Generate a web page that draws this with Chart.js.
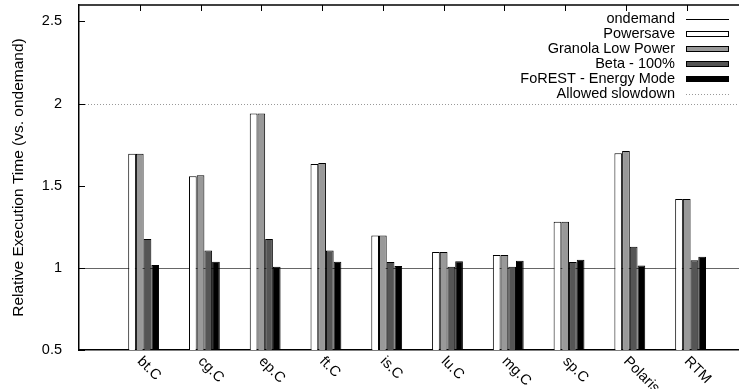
<!DOCTYPE html>
<html>
<head>
<meta charset="utf-8">
<script src="https://cdn.jsdelivr.net/npm/chart.js@4"></script>
<style>
  body { margin: 0; background: #fff; }
  #contenedor { width: 739px; height: 389px; }
</style>
</head>
<body>
<div id="contenedor"><canvas id="grafico"></canvas></div>
<script>
// datos
const categorias = ["bt.C", "cg.C", "ep.C", "ft.C", "is.C", "lu.C", "mg.C", "sp.C", "Polaris", "RTM"];
const ondemand = [1, 1, 1, 1, 1, 1, 1, 1, 1, 1];
const powersave = [1.695, 1.557, 1.94, 1.632, 1.197, 1.096, 1.079, 1.28, 1.697, 1.419];
const granola = [1.695, 1.563, 1.94, 1.638, 1.197, 1.096, 1.079, 1.28, 1.711, 1.419];
const beta = [1.175, 1.106, 1.175, 1.106, 1.035, 1.006, 1.006, 1.035, 1.128, 1.047];
const forest = [1.018, 1.037, 1.006, 1.037, 1.012, 1.04, 1.043, 1.049, 1.014, 1.067];
const slowdownPermitido = 2;
const ticksY = [0.5, 1, 1.5, 2, 2.5];

const fuente = "'Liberation Sans', Arial, Helvetica, sans-serif";
const tam = 14.5;

const puntos = vals => vals.map((v, i) => ({ x: i, y: v }));

// leyenda, lineas de referencia, ticks hacia adentro y etiquetas giradas
const extras = {
  id: 'extras',
  beforeDatasetsDraw(chart) {
    const { ctx, chartArea: a, scales: { y } } = chart;
    ctx.save();
    const y1 = Math.round(y.getPixelForValue(ondemand[0])) + 0.5;
    ctx.strokeStyle = '#666';
    ctx.lineWidth = 1;
    ctx.beginPath();
    ctx.moveTo(a.left, y1);
    ctx.lineTo(a.right, y1);
    ctx.stroke();

    const y2 = Math.round(y.getPixelForValue(slowdownPermitido)) + 0.5;
    ctx.strokeStyle = '#999';
    ctx.setLineDash([1, 2]);
    ctx.beginPath();
    ctx.moveTo(a.left, y2);
    ctx.lineTo(a.right, y2);
    ctx.stroke();
    ctx.restore();
  },
  afterDraw(chart) {
    const { ctx, chartArea: a, scales: { x, y } } = chart;
    ctx.save();
    ctx.strokeStyle = '#000';

    // borde de arriba
    ctx.lineWidth = 1.5;
    ctx.beginPath();
    ctx.moveTo(a.left, a.top);
    ctx.lineTo(a.right, a.top);
    ctx.stroke();

    // ticks
    ctx.lineWidth = 1;
    ticksY.forEach(v => {
      const py = Math.round(y.getPixelForValue(v)) + 0.5;
      ctx.beginPath();
      ctx.moveTo(a.left, py);
      ctx.lineTo(a.left + 6, py);
      ctx.stroke();
    });
    categorias.forEach((c, i) => {
      const px = Math.round(x.getPixelForValue(i)) + 0.5;
      ctx.beginPath();
      ctx.moveTo(px, a.top);
      ctx.lineTo(px, a.top + 6);
      ctx.stroke();
    });

    // etiquetas del eje x
    ctx.fillStyle = '#000';
    ctx.font = tam + 'px ' + fuente;
    ctx.textAlign = 'left';
    ctx.textBaseline = 'alphabetic';
    categorias.forEach((c, i) => {
      const px = x.getPixelForValue(i);
      ctx.save();
      ctx.translate(px - 3, a.bottom + 12);
      ctx.rotate(Math.PI / 4);
      ctx.fillText(c, 0, 0);
      ctx.restore();
    });

    // leyenda
    const textoX = 675, muestraX = 686, muestraW = 43;
    ctx.textAlign = 'right';
    ctx.textBaseline = 'middle';
    chart.data.datasets.forEach((ds, k) => {
      const cy = 18.8 + 15.05 * k;
      ctx.fillText(ds.label, textoX, cy);
      if (k === 0) {
        ctx.beginPath();
        ctx.moveTo(muestraX, Math.round(cy) + 0.5);
        ctx.lineTo(muestraX + muestraW, Math.round(cy) + 0.5);
        ctx.stroke();
      } else {
        ctx.fillStyle = ds.backgroundColor;
        ctx.fillRect(muestraX, Math.round(cy) - 3, muestraW, 6);
        ctx.strokeRect(muestraX + 0.5, Math.round(cy) - 2.5, muestraW - 1, 5);
        ctx.fillStyle = '#000';
      }
    });
    const cyS = 18.8 + 15.05 * 5;
    ctx.fillText('Allowed slowdown', textoX, cyS);
    ctx.strokeStyle = '#999';
    ctx.setLineDash([1, 2]);
    ctx.beginPath();
    ctx.moveTo(muestraX, Math.round(cyS) + 0.5);
    ctx.lineTo(muestraX + muestraW, Math.round(cyS) + 0.5);
    ctx.stroke();
    ctx.restore();
  }
};

new Chart(document.getElementById('grafico'), {
  type: 'bar',
  data: {
    datasets: [
      { label: 'ondemand', data: puntos(ondemand), backgroundColor: 'rgba(0,0,0,0)', borderWidth: 0 },
      { label: 'Powersave', data: puntos(powersave), backgroundColor: '#ffffff' },
      { label: 'Granola Low Power', data: puntos(granola), backgroundColor: '#999999' },
      { label: 'Beta - 100%', data: puntos(beta), backgroundColor: '#555555' },
      { label: 'FoREST - Energy Mode', data: puntos(forest), backgroundColor: '#000000' }
    ]
  },
  options: {
    responsive: true,
    maintainAspectRatio: false,
    animation: false,
    layout: { padding: { top: 5, right: 0, bottom: 0, left: 0 } },
    datasets: {
      bar: { categoryPercentage: 0.634, barPercentage: 1, borderColor: '#000', borderWidth: 1 }
    },
    plugins: {
      legend: { display: false },
      tooltip: { enabled: false }
    },
    scales: {
      x: {
        type: 'linear',
        offset: false,
        min: -1,
        max: 9.86,
        grid: { display: false, offset: false },
        border: { color: '#000', width: 1.5 },
        ticks: { display: false, stepSize: 1, includeBounds: false },
        afterFit: s => { s.height = 39; s.paddingLeft = 0; s.paddingRight = 0; }
      },
      y: {
        min: 0.5,
        max: 2.6,
        grid: { display: false },
        border: { color: '#000', width: 1.5 },
        ticks: {
          stepSize: 0.5,
          includeBounds: false,
          padding: 9,
          color: '#000',
          font: { family: fuente, size: tam },
          callback: v => ticksY.includes(v) ? String(v) : ''
        },
        title: {
          display: true,
          text: 'Relative Execution Time (vs. ondemand)',
          color: '#000',
          font: { family: fuente, size: 15.5 },
          padding: { top: 9, bottom: 0 }
        },
        afterFit: s => { s.width = 79; s.paddingTop = 0; s.paddingBottom = 0; }
      }
    }
  },
  plugins: [extras]
});
</script>
</body>
</html>
